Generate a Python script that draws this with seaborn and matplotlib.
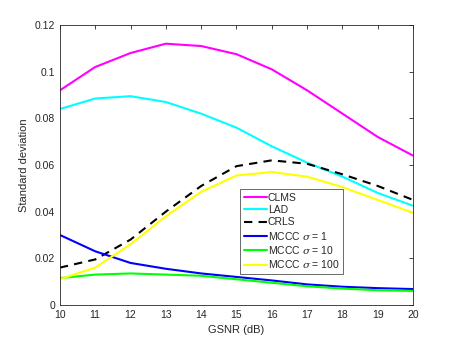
import matplotlib
matplotlib.use("Agg")
import matplotlib.pyplot as plt
import seaborn as sns

# GSNR values (dB)
gsnr = [10, 11, 12, 13, 14, 15, 16, 17, 18, 19, 20]

# standard deviation per algorithm
clms = [0.092, 0.102, 0.108, 0.112, 0.111, 0.1075, 0.101, 0.092, 0.082, 0.072, 0.064]
lad = [0.084, 0.0885, 0.0895, 0.087, 0.082, 0.076, 0.068, 0.061, 0.055, 0.048, 0.0425]
crls = [0.016, 0.0195, 0.028, 0.040, 0.051, 0.0595, 0.062, 0.0605, 0.056, 0.051, 0.045]
mccc_1 = [0.030, 0.023, 0.018, 0.0155, 0.0135, 0.012, 0.0105, 0.0088, 0.0078, 0.0072, 0.0068]
mccc_10 = [0.0115, 0.013, 0.0135, 0.013, 0.0125, 0.011, 0.0095, 0.008, 0.007, 0.0063, 0.006]
mccc_100 = [0.011, 0.016, 0.026, 0.038, 0.0485, 0.0555, 0.057, 0.055, 0.0505, 0.045, 0.0395]

series = [
    ("CLMS", clms, "#ff00ff", "-"),
    ("LAD", lad, "#00ffff", "-"),
    ("CRLS", crls, "black", (0, (4, 3))),
    (r"MCCC $\sigma$ = 1", mccc_1, "#0000ff", "-"),
    (r"MCCC $\sigma$ = 10", mccc_10, "#00ff00", "-"),
    (r"MCCC $\sigma$ = 100", mccc_100, "#ffff00", "-"),
]

sns.set_style("white")
plt.rcParams["font.family"] = ["Liberation Sans", "DejaVu Sans"]
plt.rcParams["mathtext.fontset"] = "dejavuserif"

fig = plt.figure(figsize=(4.57, 3.43), dpi=100)
ax = fig.add_axes([0.131, 0.111, 0.773, 0.816])

for name, vals, col, ls in series:
    sns.lineplot(x=gsnr, y=vals, ax=ax, color=col, linestyle=ls, linewidth=1.5, label=name)

ax.set_xlim(10, 20)
ax.set_ylim(0, 0.12)
ax.set_xticks(range(10, 21))
ax.set_yticks([0, 0.02, 0.04, 0.06, 0.08, 0.1, 0.12])
ax.set_yticklabels(["0", "0.02", "0.04", "0.06", "0.08", "0.1", "0.12"])
ax.tick_params(direction="in", top=True, right=True, length=3, labelsize=7.5,
               colors="#262626", width=0.6)
for s in ax.spines.values():
    s.set_color("#262626")
    s.set_linewidth(0.6)
ax.set_xlabel("GSNR (dB)", fontsize=8, color="#262626")
ax.set_ylabel("Standard deviation", fontsize=8, color="#262626")

leg = ax.legend(loc="upper left", bbox_to_anchor=(0.511, 0.414), fontsize=7.5,
                frameon=True, fancybox=False, handlelength=2.2, handletextpad=0.1,
                borderpad=0.35, labelspacing=0.22, borderaxespad=0)
leg.get_frame().set_edgecolor("#262626")
leg.get_frame().set_linewidth(0.6)

fig.savefig("out.png", dpi=100)
